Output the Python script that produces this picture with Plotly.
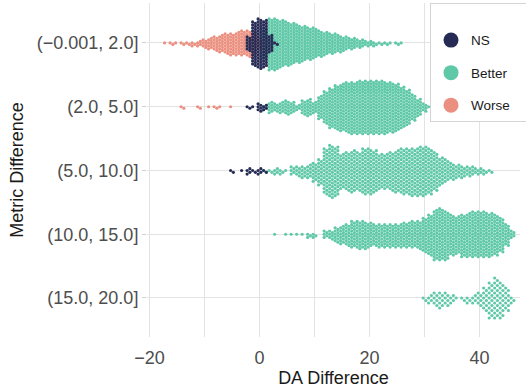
import plotly.graph_objects as go

# ---------------- data ----------------
CATEGORIES = ["(\u22120.001, 2.0]", "(2.0, 5.0]", "(5.0, 10.0]", "(10.0, 15.0]", "(15.0, 20.0]"]
GROUPS = ["NS", "Better", "Worse"]

# counts of observations per 1-unit DA-difference bin (bin centre -> count)
R1_WORSE_BINS = list(range(-17, 1))
R1_WORSE_N = [1, 2, 1, 2, 2, 3, 4, 6, 8, 10, 12, 14, 15, 16, 17, 18, 16, 6]
R1_NS_BINS = [-2, -1, 0, 1, 2, 3]
R1_NS_N = [10, 30, 34, 32, 12, 2]
R1_BETTER_BINS = list(range(1, 27))
R1_BETTER_N = [20, 35, 35, 32, 30, 28, 26, 24, 22, 21, 18, 16, 14, 13, 11, 9, 8, 6, 5, 4, 3, 2, 2, 1, 2, 1]

R2_WORSE_BINS = [-14, -11, -9, -8, -7, -5]
R2_WORSE_N = [2, 2, 1, 2, 1, 1]
R2_NS_BINS = [-2, -1, 0, 1]
R2_NS_N = [2, 1, 6, 4]
R2_BETTER_BINS = list(range(1, 32))
R2_BETTER_N = [4, 8, 6, 8, 10, 8, 4, 10, 12, 8, 16, 22, 27, 30, 32, 34, 35, 36, 36, 36, 36, 36, 35, 34,
               32, 28, 24, 18, 12, 6, 1]

R3_NS_BINS = [-5, -3, -2, -1, 0, 1]
R3_NS_N = [2, 1, 4, 2, 4, 2]
R3_BETTER_BINS = list(range(1, 43))
R3_BETTER_N = [2, 2, 4, 3, 1, 5, 6, 7, 8, 11, 15, 26, 30, 28, 20, 22, 24, 22, 26, 26, 24, 20, 20, 22,
               24, 26, 26, 27, 28, 28, 26, 22, 16, 13, 10, 8, 7, 6, 5, 4, 3, 2]

R4_BETTER_BINS = list(range(3, 47))
R4_BETTER_N = [1, 0, 1, 1, 1, 1, 3, 3, 0, 5, 6, 10, 12, 14, 17, 18, 18, 16, 14, 15, 15, 15, 15, 16,
               16, 17, 18, 22, 26, 32, 33, 31, 26, 24, 27, 28, 29, 29, 29, 28, 26, 22, 14, 5]

R5_BETTER_BINS = list(range(30, 47))
R5_BETTER_N = [2, 4, 6, 7, 6, 4, 1, 2, 3, 4, 6, 10, 15, 17, 15, 10, 3]

# ---------------- style / layout ----------------
COLORS = {"NS": "#262b55", "Better": "#5ec8a7", "Worse": "#eb9080"}
ROW_PITCH_PX = [3.0, 3.0, 3.6, 3.2, 5.0]   # vertical packing distance of dots per row
PX_PER_ROW = 63.75
COL_OFFSET = 0.25


def swarm(row, bins, counts):
    """Pack the dots of each bin into two interleaved columns, centred on the row."""
    pitch = ROW_PITCH_PX[row] / PX_PER_ROW
    xs, ys = [], []
    for b, n in zip(bins, counts):
        for k in range(n):
            col = k % 2
            j = k // 2
            if col == 0:
                m = (j + 1) // 2
                off = m * pitch * (1 if j % 2 == 1 else -1)
                xs.append(b - COL_OFFSET)
            else:
                m = j // 2
                off = (m + 0.5) * pitch * (1 if j % 2 == 0 else -1)
                xs.append(b + COL_OFFSET)
            ys.append(row + off)
    return xs, ys


series = {
    "Better": [(0, R1_BETTER_BINS, R1_BETTER_N), (1, R2_BETTER_BINS, R2_BETTER_N),
               (2, R3_BETTER_BINS, R3_BETTER_N), (3, R4_BETTER_BINS, R4_BETTER_N),
               (4, R5_BETTER_BINS, R5_BETTER_N)],
    "Worse": [(0, R1_WORSE_BINS, R1_WORSE_N), (1, R2_WORSE_BINS, R2_WORSE_N)],
    "NS": [(0, R1_NS_BINS, R1_NS_N), (1, R2_NS_BINS, R2_NS_N), (2, R3_NS_BINS, R3_NS_N)],
}

fig = go.Figure()
for g in ["Better", "Worse", "NS"]:
    X, Y = [], []
    for row, bins, counts in series[g]:
        xs, ys = swarm(row, bins, counts)
        X += xs
        Y += ys
    fig.add_trace(go.Scatter(x=X, y=Y, mode="markers", showlegend=False, hoverinfo="skip",
                             marker=dict(size=3.2, color=COLORS[g], line=dict(width=0))))

# legend entries
pad = "\u00a0" * 3
for i, g in enumerate(GROUPS):
    fig.add_trace(go.Scatter(x=[None], y=[None], mode="markers", name=g + pad,
                             legendgroup=g, showlegend=True,
                             marker=dict(size=15, color=COLORS[g])))

grid = "#e3e3e3"
fig.update_layout(
    width=526, height=388,
    margin=dict(l=147, r=6, t=3, b=51, autoexpand=False),
    plot_bgcolor="white", paper_bgcolor="white",
    font=dict(family="Liberation Sans, Arial, sans-serif", color="#1a1a1a"),
    xaxis=dict(range=[-20.45, 47.36], tickvals=[-20, 0, 20, 40], showgrid=True, gridcolor=grid,
               gridwidth=1, zeroline=False, showline=False,
               minor=dict(tickvals=[-10, 10, 30], showgrid=True, gridcolor=grid, gridwidth=1),
               ticks="outside", ticklen=4, tickcolor="rgba(0,0,0,0)",
               tickfont=dict(size=18, color="#4d4d4d"),
               title=dict(text="DA Difference", font=dict(size=18, color="#1a1a1a"), standoff=6)),
    yaxis=dict(range=[4.612, -0.627], tickvals=[0, 1, 2, 3, 4], ticktext=CATEGORIES,
               showgrid=True, gridcolor=grid, zeroline=False, showline=False,
               ticks="outside", ticklen=4, tickcolor="#d0d0d0",
               tickfont=dict(size=18, color="#4d4d4d"),
               title=dict(text="Metric Difference", font=dict(size=18, color="#1a1a1a"), standoff=8)),
    legend=dict(x=(430 - 147) / 373, y=1, xanchor="left", yanchor="top",
                bgcolor="white", bordercolor="#d4d4d4", borderwidth=1,
                font=dict(size=13.5, color="#1a1a1a"), tracegroupgap=12,
                traceorder="grouped", itemsizing="trace",
                title=dict(text=" ", font=dict(size=16))),
)

fig.write_html("out.html", config={"displayModeBar": False},
               post_script="document.body.style.margin='0';document.body.style.padding='0';")
